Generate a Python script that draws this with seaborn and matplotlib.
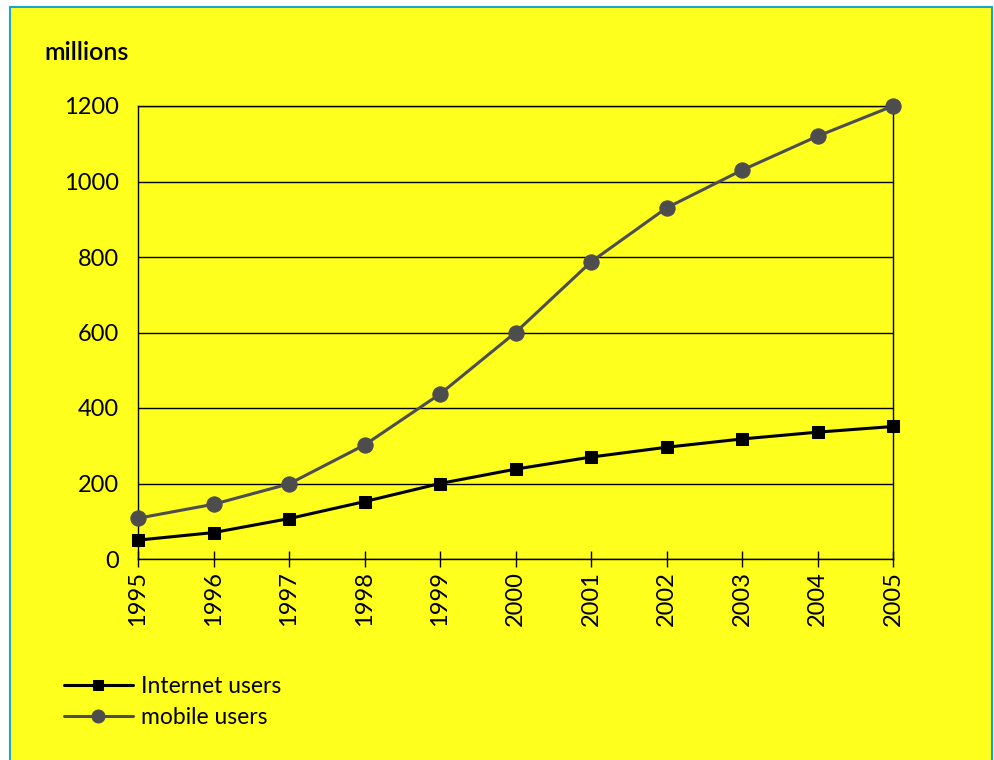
import matplotlib
matplotlib.use("Agg")
import matplotlib.pyplot as plt
from matplotlib.patches import Rectangle
import seaborn as sns
import pandas as pd

years = [1995, 1996, 1997, 1998, 1999, 2000, 2001, 2002, 2003, 2004, 2005]
internet_users = [50, 70, 107, 152, 200, 238, 270, 296, 318, 336, 351]
mobile_users = [108, 145, 199, 302, 437, 600, 787, 930, 1030, 1120, 1200]
y_ticks = [0, 200, 400, 600, 800, 1000, 1200]

sns.set_style("ticks")
plt.rcParams['font.family'] = ['Lato', 'DejaVu Sans']
plt.rcParams['text.color'] = 'black'
plt.rcParams['xtick.color'] = 'black'
plt.rcParams['ytick.color'] = 'black'

YELLOW = "#FFFF1E"
fig = plt.figure(figsize=(9.95, 7.6), dpi=100)
fig.patch.set_facecolor("white")
fig.patches.append(Rectangle((10/995, -0.01), 982/995, 753/760 + 0.01,
                             transform=fig.transFigure, facecolor=YELLOW,
                             edgecolor="#1AA6C8", linewidth=1.5, zorder=-10))

ax = fig.add_axes([138/995, (760-559)/760, 755/995, 453/760])
ax.set_facecolor(YELLOW)

df = pd.DataFrame({"year": years, "Internet users": internet_users, "mobile users": mobile_users})

sns.lineplot(data=df, x="year", y="Internet users", ax=ax, color="black",
             marker="s", markersize=8, linewidth=2.2, markeredgecolor="black",
             label="Internet users", clip_on=False, zorder=5)
sns.lineplot(data=df, x="year", y="mobile users", ax=ax, color="#4D4D4D",
             marker="o", markersize=11, linewidth=2.2, markeredgecolor="#4D4D4D",
             label="mobile users", clip_on=False, zorder=4)

ax.set_xlim(1995, 2005)
ax.set_ylim(0, 1200)
ax.set_xticks(years)
ax.set_xticklabels([str(y) for y in years], rotation=90, fontsize=17, color="black")
ax.set_yticks(y_ticks)
ax.set_yticklabels([str(v) for v in y_ticks], fontsize=17, color="black")
ax.tick_params(axis="x", direction="inout", length=12, width=1, pad=3)
ax.tick_params(axis="y", length=0, pad=14)
ax.yaxis.grid(True, color="black", linewidth=1)
ax.xaxis.grid(False)
for s in ax.spines.values():
    s.set_visible(True)
    s.set_color("black")
    s.set_linewidth(1)
ax.set_xlabel("")
ax.set_ylabel("")

fig.text(44/995, 1 - 53/760, "millions", fontsize=18, fontweight="semibold",
         va="center", ha="left", color="black")

handles, labels = ax.get_legend_handles_labels()
leg = ax.legend(handles, labels, loc="upper left", bbox_to_anchor=(64/995, 1 - 676/760),
                bbox_transform=fig.transFigure, frameon=False, fontsize=16.5,
                handlelength=3.0, handletextpad=0.35, labelspacing=0.45,
                borderaxespad=0, borderpad=0, markerscale=0.85)
for t in leg.get_texts():
    t.set_color("black")

fig.savefig("out.png", dpi=100, facecolor=fig.get_facecolor())
